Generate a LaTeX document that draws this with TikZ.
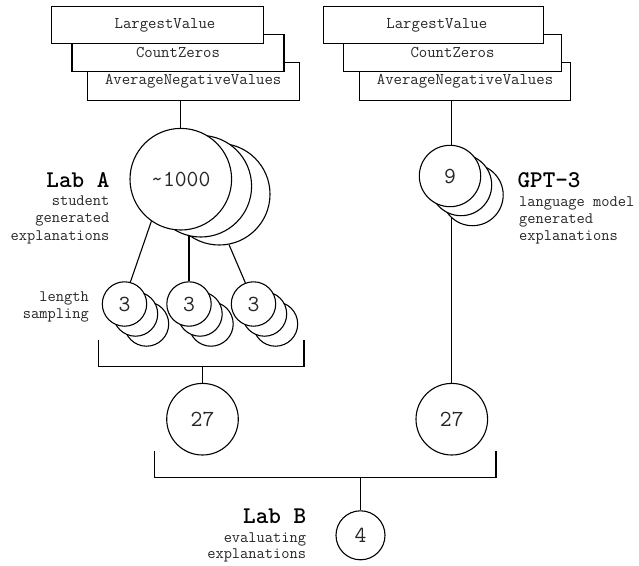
\documentclass[tikz,border=0pt]{standalone}
\usepackage{fontspec}
\usetikzlibrary{backgrounds}
\begin{document}
\begin{tikzpicture}[x=1pt,y=-1pt, line width=1.1pt,
  box/.style={draw, fill=white, rectangle, inner sep=0pt, text=black!85, font=\ttfamily\fontsize{16.3}{19}\selectfont},
  circ/.style={draw, fill=white, circle, inner sep=0pt, text=black!85, font=\ttfamily\fontsize{23}{27}\selectfont},
  labtext/.style={inner sep=0pt, font=\ttfamily\fontsize{24}{28}\selectfont\bfseries},
  captext/.style={inner sep=0pt, text=black!85},
  conn/.style={line width=1.1pt}
]
\useasboundingbox (0,0) rectangle (639,565);

% ---- left boxes ----
\node[box, minimum width=211.7, minimum height=37.3] (lb3) at (193.2,81.4) {AverageNegativeValues};
\node[box, minimum width=212,   minimum height=37.4] (lb2) at (178,53) {CountZeros};
\node[box, minimum width=211.6, minimum height=36.6] (lb1) at (157.5,25) {\hspace*{15pt}LargestValue};

% ---- right boxes ----
\node[box, minimum width=211.4, minimum height=37.3] (rb3) at (465,81.4) {AverageNegativeValues};
\node[box, minimum width=218.4, minimum height=37.4] (rb2) at (452.5,53) {CountZeros};
\node[box, minimum width=220,   minimum height=36.6] (rb1) at (433.3,25) {\hspace*{7pt}LargestValue};

% ---- big stack ----
\node[circ, minimum size=101.6] (bigc) at (219.2,194.2) {};
\node[circ, minimum size=101.6] (bigb) at (200.8,186.2) {};
\node[circ, minimum size=101.6] (biga) at (180.8,179.2) {\textasciitilde1000};

% ---- 9 stack ----
\node[circ, minimum size=61.4] (ninec) at (472.5,195) {};
\node[circ, minimum size=61.4] (nineb) at (461,185) {};
\node[circ, minimum size=61.4] (ninea) at (450,176) {9};

% ---- three groups of 3 ----
\foreach \n/\x in {g1/124.5, g2/189, g3/253.5} {
  \node[circ, minimum size=44.4] (\n c) at (\x+22,324) {};
  \node[circ, minimum size=44.4] (\n b) at (\x+11,314) {};
  \node[circ, minimum size=44.4] (\n a) at (\x,304) {3};
}

% ---- 27s and 4 ----
\node[circ, minimum size=71.6] (l27) at (202.5,419.2) {27};
\node[circ, minimum size=71.6] (r27) at (451.8,419.2) {27};
\node[circ, minimum size=49] (four) at (360.5,535.3) {4};

% ---- connectors behind ----
\begin{scope}[on background layer, conn]
  \draw[conn] (biga.north) -- (biga.north |- lb3.south);
  \draw[conn] (r27.north) -- (r27.north |- rb3.south);
  \draw[conn] (biga.-125) -- (g1a.75);
  \draw[conn] (g2a.north) -- (g2a.north |- bigb.center);
  \draw[conn] (bigc.-79) -- (g3a.111);
\end{scope}

% ---- brackets ----
\coordinate (k1l) at (98.3,340);
\coordinate (k1r) at (304,340);
\coordinate (k1m) at (202.5,366.7);
\draw[conn] (k1l) |- (k1m) -| (k1r);
\draw[conn] (k1m) -- (l27);

\coordinate (k2l) at (154.7,450.7);
\coordinate (k2r) at (496,450.7);
\coordinate (k2m) at (360.5,477.7);
\draw[conn] (k2l) |- (k2m) -| (k2r);
\draw[conn] (k2m) -- (four);

% ---- labels ----
\node[labtext, anchor=east] (laba) at (110,180) {Lab A};
\node[captext, anchor=east, align=right, font=\ttfamily\fontsize{16}{17.5}\selectfont] (capa) at (110,219.5) {student\\generated\\explanations};

\node[labtext, anchor=west] (gpt) at (517,180) {GPT-3};
\node[captext, anchor=west, align=left, font=\ttfamily\fontsize{16}{17}\selectfont] (capg) at (518.5,220) {language model\\generated\\explanations};

\node[captext, anchor=east, align=right, font=\ttfamily\fontsize{16}{16.7}\selectfont] (caplen) at (89.3,306.7) {length\\sampling};

\node[labtext, anchor=east] (labb) at (306.7,516.7) {Lab B};
\node[captext, anchor=east, align=right, font=\ttfamily\fontsize{16}{15.7}\selectfont] (capb) at (306.7,547.2) {evaluating\\explanations};
\end{tikzpicture}
\end{document}
